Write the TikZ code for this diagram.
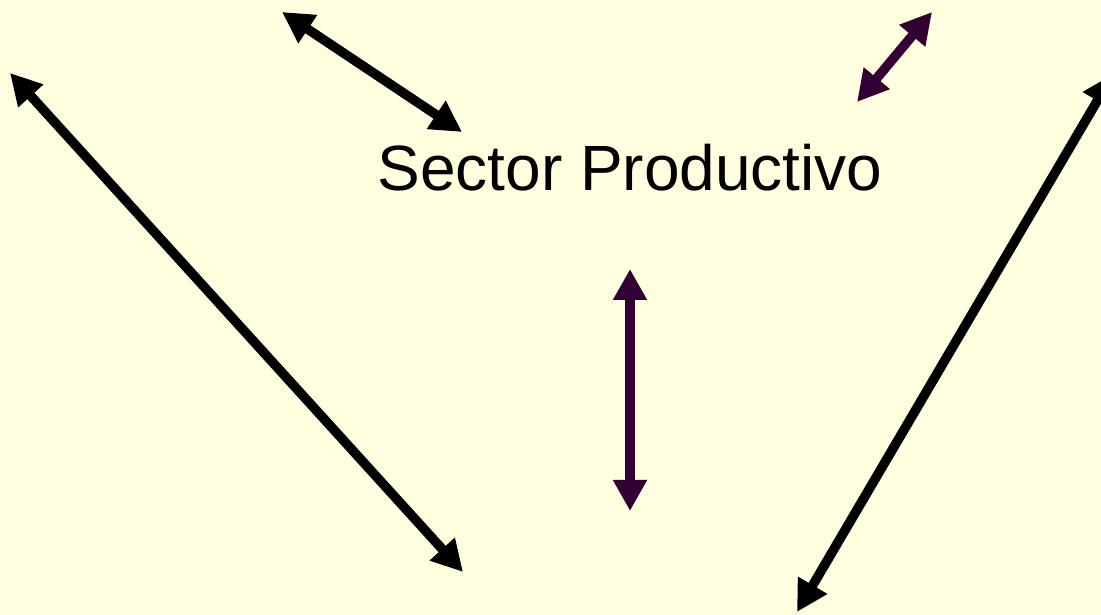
\documentclass[tikz,border=0pt]{standalone}
\usepackage{fontspec}
\setmainfont{Liberation Sans}
\usetikzlibrary{arrows.meta}
\definecolor{bgyellow}{HTML}{FFFFE0}
\definecolor{darkplum}{HTML}{330033}
\tikzset{
  dblarrow/.style={line width=9.5pt, {Triangle[length=31pt,width=32pt]}-{Triangle[length=31pt,width=32pt]}},
}
\begin{document}
\begin{tikzpicture}[x=1pt,y=1pt]
\path[fill=bgyellow] (0,0) rectangle (1101,615);
\useasboundingbox (0,0) rectangle (1101,615);
\begin{scope}
\clip (0,0) rectangle (1101,615);
\node[font=\fontsize{64}{70}\selectfont, inner sep=0pt, anchor=base] (sp) at (630,424) {Sector Productivo};
\coordinate (a1) at (282,603);
\coordinate (a2) at (462,483);
\coordinate (b1) at (932,603);
\coordinate (b2) at (857,513);
\coordinate (c1) at (630,346);
\coordinate (c2) at (630,104);
\coordinate (d1) at (10,542);
\coordinate (d2) at (463,43);
\coordinate (e1) at (1113,541);
\coordinate (e2) at (797,3);
\draw[dblarrow, black] (a1) -- (a2);
\draw[dblarrow, darkplum] (b1) -- (b2);
\draw[dblarrow, darkplum] (c1) -- (c2);
\draw[dblarrow, black] (d1) -- (d2);
\draw[dblarrow, black] (e1) -- (e2);
\end{scope}
\end{tikzpicture}
\end{document}
